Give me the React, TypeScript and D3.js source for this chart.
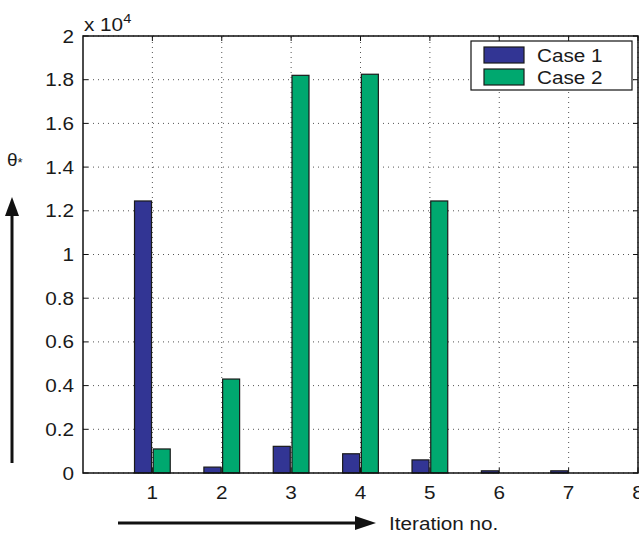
import React from "react";
import * as d3 from "d3";

const iterations = [1, 2, 3, 4, 5, 6, 7];
const case1 = [1.245, 0.027, 0.122, 0.088, 0.06, 0.01, 0.01];
const case2 = [0.11, 0.43, 1.82, 1.825, 1.245, 0, 0];
const seriesNames = ["Case 1", "Case 2"];
const seriesColors = ["#323594", "#00a86f"];
const yTicks = [0, 0.2, 0.4, 0.6, 0.8, 1, 1.2, 1.4, 1.6, 1.8, 2];
const xTicks = [1, 2, 3, 4, 5, 6, 7, 8];

const W = 639, H = 535;
const L = 83, R = 638, T = 36, B = 473;
const SX = 1.12;

function Txt({ x, y, anchor = "start", size = 18.5, children }: any) {
  return (
    <text transform={`translate(${x},${y}) scale(${SX},1)`} fontSize={size} textAnchor={anchor} fill="#1a1a1a">
      {children}
    </text>
  );
}

export default function App() {
  const x = d3.scaleLinear().domain([0, 8]).range([L, R]);
  const y = d3.scaleLinear().domain([0, 2]).range([B, T]);
  const bw = 0.245;
  const offsets = [-0.135, 0.135];
  const font = "'Liberation Sans', Arial, Helvetica, sans-serif";
  const data = [case1, case2];
  return (
    <svg width={W} height={H} style={{ position: "absolute", left: 0, top: 0, display: "block" }} fontFamily={font}>
      <rect x={0} y={0} width={W} height={H} fill="#fff" />
      {xTicks.map((t) => (
        <line key={"gx" + t} x1={x(t)} x2={x(t)} y1={B} y2={T} stroke="#555" strokeWidth={1} strokeDasharray="1,4" />
      ))}
      {yTicks.map((t) => (
        <line key={"gy" + t} x1={L} x2={R} y1={y(t)} y2={y(t)} stroke="#555" strokeWidth={1} strokeDasharray="1,4" />
      ))}
      {data.map((vals, si) =>
        vals.map((v, i) => {
          const x0 = x(iterations[i] + offsets[si] - bw / 2);
          const x1 = x(iterations[i] + offsets[si] + bw / 2);
          const h = B - y(v);
          if (h <= 0) return null;
          return (
            <rect key={si + "-" + i} x={x0} y={y(v)} width={x1 - x0} height={h}
              fill={seriesColors[si]} stroke="#1a1a1a" strokeWidth={1.2} />
          );
        })
      )}
      <rect x={L} y={T} width={R - L} height={B - T} fill="none" stroke="#111" strokeWidth={1.5} />
      {xTicks.map((t) => (
        <g key={"tx" + t}>
          <line x1={x(t)} x2={x(t)} y1={B} y2={B - 5} stroke="#111" />
          <line x1={x(t)} x2={x(t)} y1={T} y2={T + 5} stroke="#111" />
          <Txt x={x(t)} y={B + 26} anchor="middle">{t}</Txt>
        </g>
      ))}
      {yTicks.map((t) => (
        <g key={"ty" + t}>
          <line x1={L} x2={L + 5} y1={y(t)} y2={y(t)} stroke="#111" />
          <line x1={R} x2={R - 5} y1={y(t)} y2={y(t)} stroke="#111" />
          <Txt x={L - 9} y={y(t) + 6.5} anchor="end">{String(t)}</Txt>
        </g>
      ))}
      <Txt x={84} y={31}>x 10<tspan dy={-8} fontSize={13}>4</tspan></Txt>
      <rect x={471} y={41} width={161} height={49} fill="#fff" stroke="#111" strokeWidth={1.2} />
      {seriesNames.map((n, i) => (
        <g key={n}>
          <rect x={484} y={47 + i * 22} width={40} height={16} fill={seriesColors[i]} stroke="#1a1a1a" strokeWidth={1.2} />
          <Txt x={537} y={62 + i * 22}>{n}</Txt>
        </g>
      ))}
      <line x1={12} x2={12} y1={463} y2={212} stroke="#111" strokeWidth={3} />
      <polygon points="5,216 19,216 12,197" fill="#111" />
      <text x={7} y={166} fontSize={19} fill="#1a1a1a">θ<tspan fontSize={13} dy={1}>*</tspan></text>
      <line x1={118} x2={358} y1={523} y2={523} stroke="#111" strokeWidth={3} />
      <polygon points="355,516 355,530 376,523" fill="#111" />
      <Txt x={389} y={530}>Iteration no.</Txt>
    </svg>
  );
}
